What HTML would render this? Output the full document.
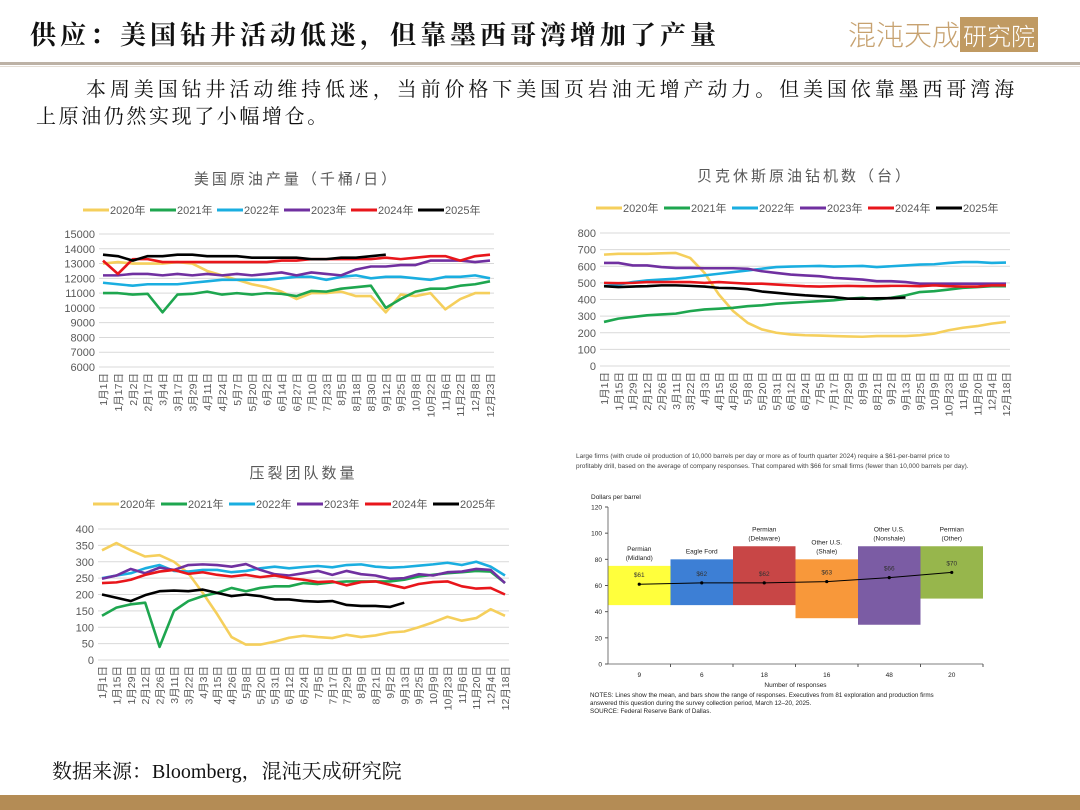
<!DOCTYPE html>
<html><head><meta charset="utf-8">
<style>
body{margin:0;width:1080px;height:810px;background:#fff;position:relative;overflow:hidden;font-family:"Liberation Serif","Noto Serif CJK SC",serif;}
.abs{position:absolute;}
#title{left:30px;top:15px;font-size:26px;font-weight:bold;color:#111;letter-spacing:4px;font-family:"Liberation Serif","Noto Serif CJK SC",serif;white-space:nowrap;}
#hline{left:0;top:62px;width:1080px;height:3px;background:#bdb2a6;}
#hline2{left:0;top:66px;width:1080px;height:1px;background:#e4ddd5;}
#logo{left:848px;top:14px;font-size:28px;color:#c7a270;letter-spacing:0px;font-family:"Noto Sans CJK SC",sans-serif;font-weight:300}
#logo span{background:#c09a62;color:#fff;padding:0 3px;font-size:24px}
#para{left:36px;top:77px;width:1040px;font-size:20px;line-height:27px;color:#111;letter-spacing:3.9px;white-space:nowrap;}
#src{left:52px;top:755px;font-size:20px;color:#111;}
#foot{left:0;top:795px;width:1080px;height:15px;background:#b48c55;}
svg text{font-family:"Liberation Sans","Noto Sans CJK SC",sans-serif;}
</style></head><body>
<div class="abs" id="title">供应：美国钻井活动低迷，但靠墨西哥湾增加了产量</div>
<div class="abs" id="logo">混沌天成<span>研究院</span></div>
<div class="abs" id="hline"></div>
<div class="abs" id="hline2"></div>
<div class="abs" id="para"><span style="padding-left:50px">本周美国钻井活动维持低迷，当前价格下美国页岩油无增产动力。但美国依靠墨西哥湾海</span><br><span style="letter-spacing:2.6px">上原油仍然实现了小幅增仓。</span></div>
<svg class="abs" style="left:0;top:0" width="1080" height="810" id="charts"></svg>
<div class="abs" id="src">数据来源：Bloomberg，混沌天成研究院</div>
<div class="abs" id="foot"></div>
<script>
const seriesNames=["2020年","2021年","2022年","2023年","2024年","2025年"];
const c1Dates=["1月1日","1月17日","2月2日","2月17日","3月4日","3月17日","3月29日","4月11日","4月24日","5月7日","5月20日","6月2日","6月14日","6月27日","7月10日","7月23日","8月5日","8月18日","8月30日","9月12日","9月25日","10月8日","10月22日","11月6日","11月22日","12月8日","12月23日"];
const c1Ticks=[6000,7000,8000,9000,10000,11000,12000,13000,14000,15000];
const c1_2020=[13000,13100,13000,13000,13000,13100,13000,12500,12200,11900,11600,11400,11100,10600,11000,11000,11100,10800,10800,9700,10900,10800,11000,9900,10600,11000,11000];
const c1_2021=[11000,11000,10900,10950,9700,10900,10950,11100,10900,11000,10900,11000,10950,10800,11150,11100,11300,11400,11500,10000,10600,11100,11300,11300,11500,11600,11800];
const c1_2022=[11700,11600,11500,11600,11600,11600,11700,11800,11900,11900,11900,11900,12000,12100,12100,11900,12100,12200,12000,12100,12100,12000,11900,12100,12100,12200,12000];
const c1_2023=[12200,12200,12300,12300,12200,12300,12200,12300,12200,12300,12200,12300,12400,12200,12400,12300,12200,12600,12800,12800,12900,12900,13200,13200,13200,13100,13200];
const c1_2024=[13200,12300,13300,13300,13100,13100,13100,13100,13100,13100,13100,13100,13200,13200,13300,13300,13300,13300,13300,13400,13300,13400,13500,13500,13200,13500,13600];
const c1_2025=[13600,13500,13200,13500,13500,13600,13600,13500,13500,13500,13400,13400,13400,13400,13300,13300,13400,13400,13500,13600];

const c2Dates=["1月1日","1月15日","1月29日","2月12日","2月26日","3月11日","3月22日","4月3日","4月15日","4月26日","5月8日","5月20日","5月31日","6月12日","6月24日","7月5日","7月17日","7月29日","8月9日","8月21日","9月2日","9月13日","9月25日","10月9日","10月23日","11月6日","11月20日","12月4日","12月18日"];
const c2Ticks=[0,100,200,300,400,500,600,700,800];
const c2_2020=[670,675,675,675,678,680,650,560,430,330,260,220,200,190,185,183,180,178,176,180,180,180,185,195,215,230,240,255,265];
const c2_2021=[265,285,295,305,310,315,330,340,345,350,360,365,375,380,385,390,395,405,410,400,410,425,445,450,460,470,475,480,480];
const c2_2022=[480,490,505,515,520,525,535,545,555,565,575,585,595,598,600,602,598,600,602,595,600,605,610,612,620,625,625,620,622];
const c2_2023=[620,620,605,605,595,590,590,588,588,588,585,570,560,550,545,540,530,525,520,510,510,505,495,495,495,495,495,495,495];
const c2_2024=[500,498,500,505,505,505,505,500,505,500,495,495,490,485,480,478,480,482,480,480,482,482,480,485,480,478,478,485,485];
const c2_2025=[480,475,478,480,485,485,482,478,470,468,462,448,440,432,425,420,415,405,405,407,408,412];

const c3Ticks=[0,50,100,150,200,250,300,350,400];
const c3_2020=[335,357,335,316,320,300,265,205,140,70,47,47,56,68,74,70,67,77,70,75,84,87,100,115,132,120,128,155,135];
const c3_2021=[135,160,170,175,40,150,180,195,205,220,210,220,225,225,235,232,237,240,240,240,240,245,255,260,265,268,272,270,235];
const c3_2022=[250,258,265,280,290,272,270,275,275,268,272,280,285,280,284,287,283,290,292,285,282,284,288,292,297,290,300,285,258];
const c3_2023=[248,258,278,265,282,275,290,292,290,285,293,275,262,258,265,272,260,272,262,258,248,250,262,258,268,270,278,275,235];
const c3_2024=[235,237,245,260,270,275,263,268,260,255,260,253,258,250,245,238,240,228,238,240,230,220,232,238,240,225,218,220,200];
const c3_2025=[200,190,180,198,210,212,210,215,205,195,200,195,185,185,180,178,180,168,165,165,162,175];

const bCats=["Permian|(Midland)","Eagle Ford","Permian|(Delaware)","Other U.S.|(Shale)","Other U.S.|(Nonshale)","Permian|(Other)"];
const bLow=[45,45,45,35,30,50];
const bHigh=[75,80,90,80,90,90];
const bMean=[61,62,62,63,66,70];
const bCount=[9,6,18,16,48,20];
const bTicks=[0,20,40,60,80,100,120];

const colors=["#f5cf5c","#1ea64f","#1aaee0","#7030a0","#e8161b","#000000"];
const svg=document.getElementById('charts');
const NS="http://www.w3.org/2000/svg";
function mk(tag,attrs,parent){const e=document.createElementNS(NS,tag);for(const k in attrs)e.setAttribute(k,attrs[k]);(parent||svg).appendChild(e);return e;}
function txt(s,attrs,parent){const e=mk('text',attrs,parent);e.textContent=s;return e;}

function lineChart(name,cfg,dates,ticks,data){
  const g=mk('g',{});
  
  
  const ymin=ticks[0],ymax=ticks[ticks.length-1];
  const y=v=>cfg.y0+(v-ymin)/(ymax-ymin)*(cfg.y1-cfg.y0);
  const x=i=>cfg.x0+i*(cfg.x1-cfg.x0)/(dates.length-1);
  const t=txt(cfg.title,{x:(cfg.x0+cfg.x1)/2,y:cfg.ty,'text-anchor':'middle','font-size':15,fill:'#595959','letter-spacing':3},g);
  
  
  ticks.forEach(v=>{
    const l=mk('line',{x1:cfg.x0-4,x2:cfg.x1+4,y1:y(v),y2:y(v),stroke:'#d9d9d9','stroke-width':1},g);
    
    
    const tl=txt(String(v),{x:cfg.x0-8,y:y(v)+4,'text-anchor':'end','font-size':11,fill:'#595959'},g);
    
    
  });
  dates.forEach((d,i)=>{
    const tl=txt(d,{transform:`translate(${x(i)+4},${cfg.y0+6}) rotate(-90)`,'text-anchor':'end','font-size':10.5,fill:'#595959'},g);
    
    
  });
  data.forEach((arr,s)=>{
    const p=mk('polyline',{points:arr.map((v,i)=>x(i)+','+y(v)).join(' '),fill:'none',stroke:colors[s],'stroke-width':2.6,'stroke-linejoin':'round'},g);
    
    
  });
  let lx=cfg.lx;
  seriesNames.forEach((n,s)=>{
    const l=mk('line',{x1:lx,x2:lx+26,y1:cfg.ly-4,y2:cfg.ly-4,stroke:colors[s],'stroke-width':3},g);
    
    
    const tl=txt(n,{x:lx+27,y:cfg.ly,'font-size':11,fill:'#595959'},g);
    
    
    lx+=cfg.lstep;
  });
}
lineChart('crude-production-chart',{x0:103,x1:490,y0:367,y1:234,title:'美国原油产量（千桶/日）',ty:184,lx:83,ly:214,lstep:67},c1Dates,c1Ticks,[c1_2020,c1_2021,c1_2022,c1_2023,c1_2024,c1_2025]);
lineChart('rig-count-chart',{x0:604,x1:1006,y0:366,y1:233,title:'贝克休斯原油钻机数（台）',ty:181,lx:596,ly:212,lstep:68},c2Dates,c2Ticks,[c2_2020,c2_2021,c2_2022,c2_2023,c2_2024,c2_2025]);
lineChart('frac-crew-chart',{x0:102,x1:505,y0:660,y1:529,title:'压裂团队数量',ty:478,lx:93,ly:508,lstep:68},c2Dates,c3Ticks,[c3_2020,c3_2021,c3_2022,c3_2023,c3_2024,c3_2025]);

(function(){
  const g=mk('g',{});
  
  
  const X0=608,X1=983,Y0=664,Y1=507;
  const y=v=>Y0-(v-0)/(120)*(Y0-Y1);
  const bw=(X1-X0)/bCats.length;
  const cx=i=>X0+bw*(i+0.5);
  const cap1=txt('Large firms (with crude oil production of 10,000 barrels per day or more as of fourth quarter 2024) require a $61-per-barrel price to',{x:576,y:458,'font-size':6.5,fill:'#444'},g);
  
  
  const cap2=txt('profitably drill, based on the average of company responses. That compared with $66 for small firms (fewer than 10,000 barrels per day).',{x:576,y:468,'font-size':6.5,fill:'#444'},g);
  
  
  const yt=txt('Dollars  per barrel',{x:591,y:499,'font-size':6.5,fill:'#222'},g);
  
  
  const barCols=["#ffff3c","#3d7fd5","#c84646","#f8983a","#7b5ca4","#97b64c"];
  bCats.forEach((c,i)=>{
    const r=mk('rect',{x:X0+bw*i,y:y(bHigh[i]),width:bw,height:y(bLow[i])-y(bHigh[i]),fill:barCols[i]},g);
    
    
    const parts=c.split('|');
    parts.forEach((p,k)=>{
      const tl=txt(p,{x:cx(i),y:y(bHigh[i])-6-(parts.length-1-k)*9,'text-anchor':'middle','font-size':6.5,fill:'#222'},g);
      
      
    });
    const ml=txt('$'+bMean[i],{x:cx(i),y:y(bMean[i])-7,'text-anchor':'middle','font-size':6.5,fill:'#333'},g);
    
    
    const d=mk('circle',{cx:cx(i),cy:y(bMean[i]),r:1.6,fill:'#000'},g);
    
    
    const cl=txt(String(bCount[i]),{x:cx(i),y:Y0+13,'text-anchor':'middle','font-size':6.5,fill:'#222'},g);
    
    
    const tk=mk('line',{x1:X0+bw*(i+1),x2:X0+bw*(i+1),y1:Y0,y2:Y0+3,stroke:'#555'},g);
    
    
  });
  const ml=mk('polyline',{points:bMean.map((v,i)=>cx(i)+','+y(v)).join(' '),fill:'none',stroke:'#000','stroke-width':1},g);
  
  
  bTicks.forEach(v=>{
    const tl=txt(String(v),{x:X0-6,y:y(v)+2.5,'text-anchor':'end','font-size':6.5,fill:'#222'},g);
    
    
    const tk=mk('line',{x1:X0-3,x2:X0,y1:y(v),y2:y(v),stroke:'#555'},g);
    
    
  });
  const ax=mk('path',{d:`M${X0},${Y1} V${Y0} H${X1}`,fill:'none',stroke:'#555','stroke-width':0.8},g);
  
  
  const xt=txt('Number  of responses',{x:(X0+X1)/2,y:687,'text-anchor':'middle','font-size':6.5,fill:'#222'},g);
  
  
  ['NOTES:  Lines show the mean, and bars show the range of responses. Executives  from 81 exploration and production firms','answered this question during the survey collection period, March 12–20, 2025.','SOURCE:  Federal Reserve Bank of Dallas.'].forEach((s,k)=>{
    const n=txt(s,{x:590,y:697+k*8,'font-size':6.3,fill:'#222'},g);
    
    
  });
})();
</script>
</body></html>
